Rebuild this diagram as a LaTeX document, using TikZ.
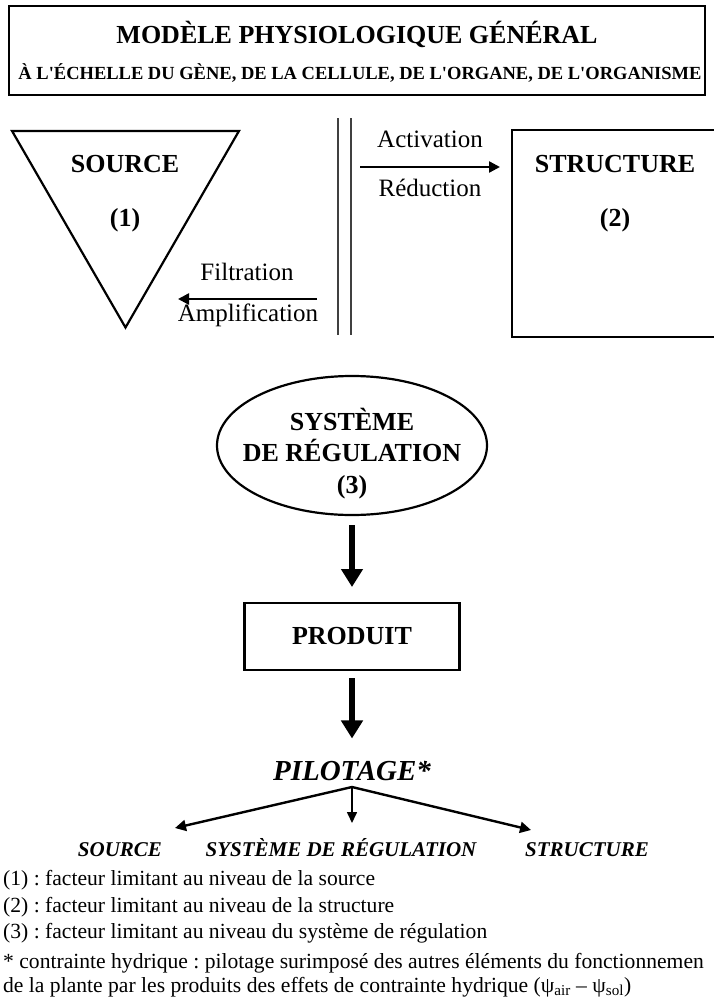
\documentclass[tikz,border=0pt]{standalone}
\usepackage{fontspec}
\setmainfont{Liberation Serif}
\usepackage{tikz}
\usetikzlibrary{arrows.meta,shapes.geometric}
\frenchspacing

\tikzset{
  shapeline/.style={draw, line width=2.2pt, inner sep=0pt, outer sep=0pt},
  bigbf/.style={font=\fontsize{26}{30}\selectfont\bfseries},
  midrm/.style={font=\fontsize{25}{30}\selectfont},
  labit/.style={font=\fontsize{21}{25}\selectfont\bfseries\itshape},
  note/.style={font=\fontsize{21.6}{26}\selectfont, anchor=base west},
  thinarrow/.style={-{Triangle[length=11pt,width=11pt]}, line width=2.4pt},
  fatarrow/.style={-{Triangle[length=18pt,width=21pt]}, line width=5.5pt},
  sepline/.style={line width=1.4pt, draw=black!75},
}
\newcommand\apos{\textquotesingle}

\begin{document}
\begin{tikzpicture}[x=1pt,y=-1pt]
        \useasboundingbox (0,0) rectangle (714,999);
        \clip (0,0) rectangle (714,999);
        % boxes and shapes
        \begin{scope}[every node/.style = {shapeline}]
            \node[minimum width=696pt, minimum height=89pt] (titre) at (357,50.5) {};
            \node[regular polygon, regular polygon sides=3, shape border rotate=180,
                  minimum size=262pt] (source) at (125.5,196.5) {};
            \node[minimum width=213pt, minimum height=207pt] (struct) at (618.5,233.5) {};
            \node[ellipse, minimum width=270pt, minimum height=139pt] (regul) at (352,445.5) {};
            \node[minimum width=215pt, minimum height=67pt, bigbf] (produit) at (352,636.5) {PRODUIT};
        \end{scope}
        % double separator
        \draw[sepline] (338,118) -- (338,335);
        \draw[sepline] (351,118) -- (351,335);
        % texts
        \begin{scope}[every node/.style = {inner sep=0pt, anchor=base}]
            \node[bigbf] (titre1) at (357,43) {MODÈLE PHYSIOLOGIQUE GÉNÉRAL};
            \node[font=\fontsize{18.5}{22}\selectfont\bfseries] (titre2) at (360,79)
                {À L\apos ÉCHELLE DU GÈNE, DE LA CELLULE, DE L\apos ORGANE, DE L\apos ORGANISME};
            \node[bigbf] (sourcetxt) at (125,172) {SOURCE};
            \node[bigbf] (sourcenum) at (125,226) {(1)};
            \node[bigbf] (structtxt) at (615,172) {STRUCTURE};
            \node[bigbf] (structnum) at (615,226) {(2)};
            \node[midrm] (activ) at (430,147) {Activation};
            \node[midrm] (reduc) at (430,196) {Réduction};
            \node[midrm] (filtr) at (247,280) {Filtration};
            \node[midrm] (ampli) at (248,321) {Amplification};
            \node[bigbf] (regul1) at (352,430) {SYSTÈME};
            \node[bigbf] (regul2) at (352,461.5) {DE RÉGULATION};
            \node[bigbf] (regul3) at (352,493) {(3)};
            \node[font=\fontsize{29}{34}\selectfont\bfseries\itshape] (pilot) at (352,780) {PILOTAGE*};
            \node[labit] (cibleS) at (120,856) {SOURCE};
            \node[labit] (cibleY) at (341,856) {SYSTÈME DE RÉGULATION};
            \node[labit] (cibleR) at (587,856) {STRUCTURE};
            \node[note] (note1) at (3,885) {(1) : facteur limitant au niveau de la source};
            \node[note] (note2) at (3,912) {(2) : facteur limitant au niveau de la structure};
            \node[note] (note3) at (3,938) {(3) : facteur limitant au niveau du système de régulation};
            \node[note] (note4) at (3,968) {* contrainte hydrique : pilotage surimposé des autres éléments du fonctionnemen};
            \node[note] (note5) at (3,992) {de la plante par les produits des effets de contrainte hydrique (ψ\textsubscript{air} -- ψ\textsubscript{sol})};
        \end{scope}
        % free arrow ends
        \coordinate (act1) at (360,167);
        \coordinate (act2) at (500,167);
        \coordinate (fil1) at (317,299);
        \coordinate (fil2) at (178,299);
        \coordinate (fan)  at (352,787);
        \coordinate (fanS) at (175,828);
        \coordinate (fanY) at (352,823);
        \coordinate (fanR) at (531,830);
        % connectors
        \begin{scope}
            \path[thinarrow] (act1) edge (act2);
            \path[thinarrow] (fil1) edge (fil2);
            \path[fatarrow, shorten <=10pt, shorten >=16pt] (regul.south) edge (produit.north);
            \path[fatarrow, shorten <=8pt, shorten >=22pt] (produit.south) edge (pilot.north);
            \path[thinarrow] (fan) edge (fanS);
            \path[-{Triangle[length=11pt,width=10pt]}, line width=1.6pt] (fan) edge (fanY);
            \path[thinarrow] (fan) edge (fanR);
        \end{scope}
    \end{tikzpicture}
\end{document}
